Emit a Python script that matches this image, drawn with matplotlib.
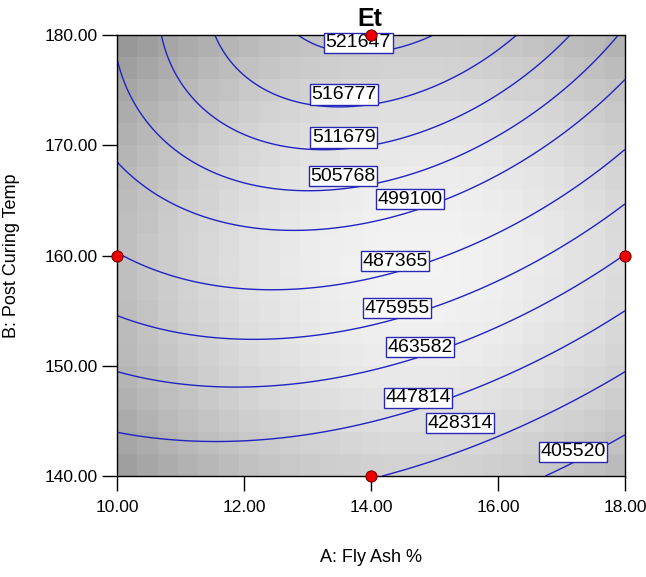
import numpy as np
import matplotlib
matplotlib.use("Agg")
import matplotlib.pyplot as plt

plt.rcParams["font.family"] = ["Liberation Sans", "DejaVu Sans"]

# fitted quadratic model in coded units (a = (A-14)/4, b = (B-160)/20)
coef_names = ["const", "a", "b", "ab", "a2", "b2"]
coef_values = [492387.1, -11781.8, 46751.4, 11062.0, -17291.3, -16271.6]

contour_levels = [405520, 428314, 447814, 463582, 475955, 487365,
                  499100, 505768, 511679, 516777, 521647]
# where each contour label sits (A, B)
label_pos = [(17.18, 142.2), (15.40, 144.8), (14.74, 147.1), (14.77, 151.7),
             (14.41, 155.2), (14.38, 159.5), (14.61, 165.1), (13.56, 167.2),
             (13.57, 170.7), (13.57, 174.6), (13.80, 179.3)]

design_A = [14.0, 10.0, 18.0, 14.0]
design_B = [180.0, 160.0, 160.0, 140.0]

x_ticks = [10, 12, 14, 16, 18]
y_ticks = [140, 150, 160, 170, 180]

c = dict(zip(coef_names, coef_values))


def model(A, B):
    a = (A - 14.0) / 4.0
    b = (B - 160.0) / 20.0
    return (c["const"] + c["a"] * a + c["b"] * b + c["ab"] * a * b
            + c["a2"] * a ** 2 + c["b2"] * b ** 2)


fig = plt.figure(figsize=(6.46, 5.77), dpi=100)
ax = fig.add_axes([117 / 646, 101 / 577, 508 / 646, 441 / 577])

# blocky grey shading behind the contours
nx, ny = 25, 20
sa, sb = np.meshgrid(np.linspace(-1, 1, nx), np.linspace(-1, 1, ny))
shade = 0.95 - 0.14 * ((sa - 0.2) ** 2 + (sb + 0.05) ** 2)
ax.imshow(shade, cmap="gray", vmin=0, vmax=1, origin="lower",
          extent=(10, 18, 140, 180), aspect="auto", interpolation="nearest",
          zorder=0)

gA, gB = np.meshgrid(np.linspace(10, 18, 300), np.linspace(140, 180, 300))
ax.contour(gA, gB, model(gA, gB), levels=contour_levels,
           colors="#2222c4", linewidths=1.0, zorder=2)

for lvl, (px, py) in zip(contour_levels, label_pos):
    ax.text(px, py, "%d" % lvl, fontsize=14, ha="center", va="center",
            color="black", zorder=4,
            bbox=dict(boxstyle="square,pad=0.08", fc="white",
                      ec="#2828b4", lw=1.0))

ax.plot(design_A, design_B, "o", color="#ee0000", mec="#7a0000", mew=0.8,
        markersize=8, clip_on=False, zorder=5)

ax.set_xlim(10, 18)
ax.set_ylim(140, 180)
ax.set_xticks(x_ticks)
ax.set_yticks(y_ticks)
ax.set_xticklabels(["%.2f" % v for v in x_ticks])
ax.set_yticklabels(["%.2f" % v for v in y_ticks])
ax.tick_params(direction="out", length=11, width=1, labelsize=12.5, pad=3)
ax.tick_params(axis="x", pad=6)
for s in ax.spines.values():
    s.set_linewidth(1.0)

ax.set_xlabel("A: Fly Ash %", fontsize=13)
ax.set_ylabel("B: Post Curing Temp", fontsize=13)
ax.xaxis.set_label_coords(0.5, (476 - 549) / 441)
ax.yaxis.set_label_coords((20 - 117) / 508, 0.5)
fig.text(370 / 646, 1 - 19 / 577, "Et", fontsize=18, fontweight="bold",
         ha="center", va="center")

fig.savefig("out.png", dpi=100)
